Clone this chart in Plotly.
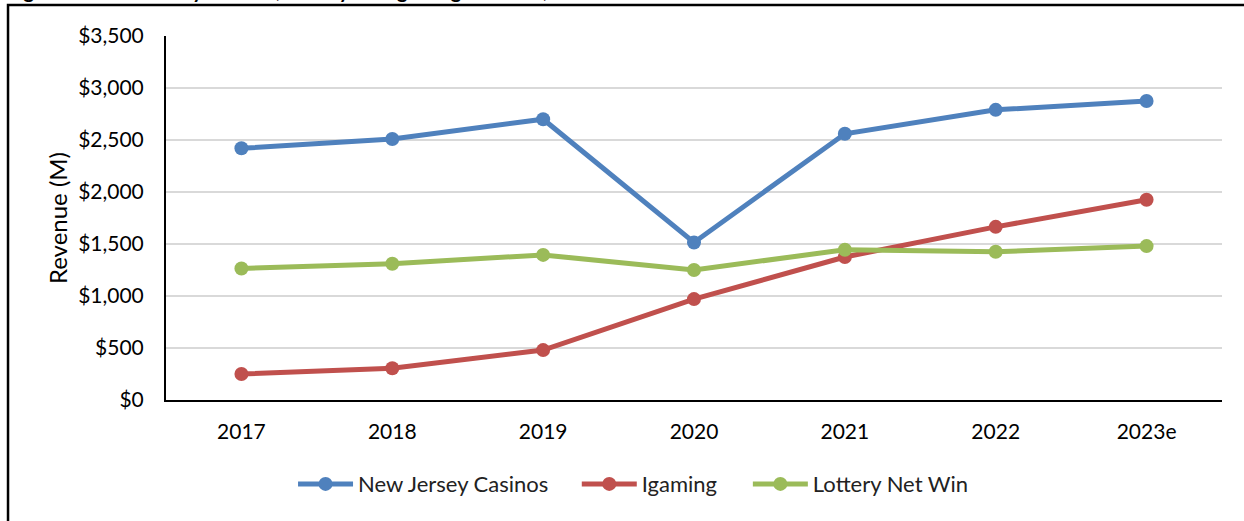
import plotly.graph_objs as go

# values (revenue in $M)
years = ["2017", "2018", "2019", "2020", "2021", "2022", "2023e"]
casinos = [2420, 2510, 2700, 1515, 2560, 2790, 2875]
igaming = [250, 305, 480, 970, 1375, 1665, 1925]
lottery = [1265, 1310, 1395, 1250, 1445, 1425, 1480]

y_ticks = [0, 500, 1000, 1500, 2000, 2500, 3000, 3500]
y_tick_labels = ["$0", "$500", "$1,000", "$1,500", "$2,000", "$2,500", "$3,000", "$3,500"]

FONT = "Lato, 'Open Sans', sans-serif"


def make_line(values, name, color, legend):
    return go.Scatter(
        x=years,
        y=values,
        name=name,
        legend=legend,
        mode='lines+markers',
        line=dict(color=color, width=5),
        marker=dict(color=color, size=14)
    )


def legend_box(x):
    # one legend per series so each entry can sit where it does in the original
    return dict(
        orientation='h',
        x=x,
        xanchor='left',
        y=-0.231,
        yanchor='middle',
        itemwidth=55,
        font=dict(size=22, color='#222222'),
        bgcolor='rgba(0,0,0,0)',
    )


data = [
    make_line(casinos, 'New Jersey Casinos', '#4F81BD', 'legend'),
    make_line(igaming, 'Igaming', '#C0504D', 'legend2'),
    make_line(lottery, 'Lottery Net Win', '#9BBB59', 'legend3'),
]

layout = go.Layout(
    width=1244,
    height=521,
    margin=dict(l=166, r=22, t=36, b=121),
    paper_bgcolor='white',
    plot_bgcolor='white',
    font=dict(family=FONT, size=21, color='#000000'),
    xaxis=dict(
        type='category',
        range=[-0.5, 6.5],
        showgrid=False,
        showline=True,
        linecolor='black',
        linewidth=2,
        ticks='',
        ticklabelstandoff=12,
        tickfont=dict(size=21),
    ),
    yaxis=dict(
        range=[0, 3500],
        tickvals=y_ticks,
        ticktext=y_tick_labels,
        showgrid=True,
        gridcolor='#D9D9D9',
        gridwidth=2,
        showline=True,
        linecolor='black',
        linewidth=2,
        zeroline=False,
        ticks='',
        ticklabelstandoff=16,
        tickfont=dict(size=21),
        title=dict(text='Revenue (M)', font=dict(size=24), standoff=4),
    ),
    legend=legend_box(0.1203),
    legend2=legend_box(0.389),
    legend3=legend_box(0.551),
    shapes=[
        # outer frame of the figure
        dict(type='rect', xref='paper', yref='paper',
             x0=-0.1496, x1=1.03, y0=-0.36, y1=1.0852,
             line=dict(color='black', width=2.5), fillcolor='rgba(0,0,0,0)', layer='below')
    ],
    annotations=[
        # title that sits mostly above the visible page
        dict(text='<b>Figure 11: New Jersey Casinos, Lottery and Igaming Revenue, 2017-2023e</b>',
             xref='paper', yref='paper', x=-0.152, y=1.089, xanchor='left', yanchor='bottom',
             showarrow=False, font=dict(size=20, color='black'))
    ],
    showlegend=True,
)

fig = go.Figure(data=data, layout=layout)
fig.write_html("out.html", config={'displayModeBar': False},
               post_script="document.body.style.margin='0';")
